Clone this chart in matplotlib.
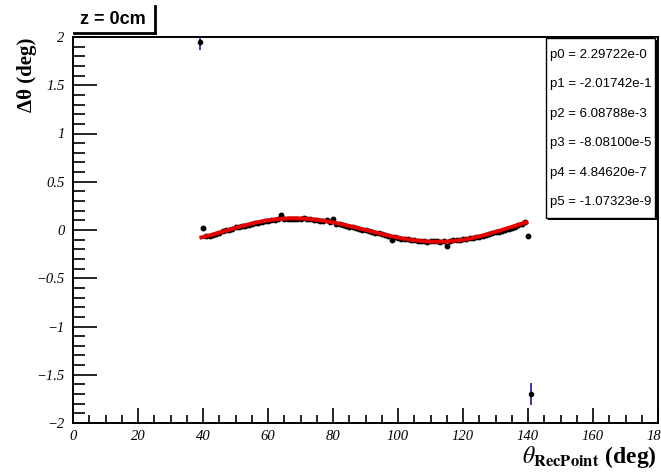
import numpy as np
import matplotlib
matplotlib.use("Agg")
import matplotlib.pyplot as plt
from matplotlib.ticker import MultipleLocator
from matplotlib.patches import Rectangle
from matplotlib.lines import Line2D

plt.rcParams['mathtext.fontset'] = 'stix'

# measured points (deg)
theta = list(range(40, 141))
dtheta = [0.025, -0.065, -0.062, -0.055, -0.042, -0.030, -0.008, -0.005, 0.005, 0.012,
          0.030, 0.030, 0.042, 0.045, 0.055, 0.062, 0.072, 0.075, 0.088, 0.090,
          0.098, 0.102, 0.105, 0.110, 0.155, 0.118, 0.110, 0.112, 0.115, 0.112,
          0.115, 0.122, 0.118, 0.110, 0.108, 0.105, 0.098, 0.095, 0.100, 0.085,
          0.110, 0.065, 0.062, 0.050, 0.045, 0.035, 0.032, 0.020, 0.015, 0.005,
          -0.005, -0.008, -0.018, -0.030, -0.035, -0.045, -0.050, -0.060, -0.105, -0.070,
          -0.082, -0.090, -0.092, -0.098, -0.100, -0.105, -0.110, -0.112, -0.115, -0.122,
          -0.118, -0.115, -0.118, -0.120, -0.115, -0.170, -0.112, -0.108, -0.105, -0.100,
          -0.098, -0.095, -0.088, -0.082, -0.075, -0.068, -0.060, -0.050, -0.045, -0.035,
          -0.025, -0.018, -0.008, 0.000, 0.012, 0.022, 0.035, 0.048, 0.060, 0.085,
          -0.060]

# outliers with visible error bars
out_x = [39, 141]
out_y = [1.95, -1.70]
out_err = [0.08, 0.11]

# pol5 fit parameters
pars = [2.29722e-0, -2.01742e-1, 6.08788e-3, -8.08100e-5, 4.84620e-7, -1.07323e-9]
par_txt = ["2.29722e-0", "-2.01742e-1", "6.08788e-3", "-8.08100e-5", "4.84620e-7", "-1.07323e-9"]
fit_range = (39.5, 139.5)

fig = plt.figure(figsize=(6.61, 4.76), dpi=100)
ax = fig.add_axes([73/661, 53/476, 585/661, 386/476])

ax.errorbar(out_x, out_y, yerr=out_err, fmt='o', color='black', ms=3,
            ecolor='#2b2b9e', elinewidth=1.3, capsize=0, zorder=3)
ax.plot(theta, dtheta, 'o', color='black', ms=3.2, zorder=3)

xf = np.linspace(fit_range[0], fit_range[1], 300)
yf = np.polyval(pars[::-1], xf)
ax.plot(xf, yf, color='#e80000', lw=2.8, zorder=4)

ax.set_xlim(0, 180)
ax.set_ylim(-2, 2)
ax.xaxis.set_major_locator(MultipleLocator(20))
ax.xaxis.set_minor_locator(MultipleLocator(5))
ax.yaxis.set_major_locator(MultipleLocator(0.5))
ax.yaxis.set_minor_locator(MultipleLocator(0.1))
ax.tick_params(which='both', direction='in', top=False, right=False, width=1.2)
ax.tick_params(which='major', axis='x', length=11, pad=5)
ax.tick_params(which='minor', axis='x', length=5.5)
ax.tick_params(which='major', axis='y', length=17, pad=6)
ax.tick_params(which='minor', axis='y', length=8.5)
for s in ax.spines.values():
    s.set_linewidth(1.4)

ax.set_xticks(np.arange(0, 181, 20))
ax.set_xticklabels([str(v) for v in range(0, 181, 20)])
ax.set_yticks(np.arange(-2, 2.01, 0.5))
ax.set_yticklabels(['\u22122', '\u22121.5', '\u22121', '\u22120.5', '0', '0.5', '1', '1.5', '2'])
for lab in ax.get_xticklabels() + ax.get_yticklabels():
    lab.set_fontfamily('Liberation Serif')
    lab.set_fontstyle('italic')
    lab.set_fontsize(10.5)

# axis titles
fig.text(657/661, 1 - 463/476, r'$\theta_{\mathbf{RecPoint}}$ (deg)', ha='right', va='baseline',
         fontsize=17, fontweight='bold', family='Liberation Serif')
fig.text(27/661, 1 - 38/476, '\u0394\u03b8 (deg)', ha='center', va='top', rotation=90,
         fontsize=15, fontweight='bold', family='Liberation Serif')

# title box
fig.add_artist(Line2D([74/661, 155/661], [1 - 33/476, 1 - 33/476], color='black', lw=2))
fig.add_artist(Line2D([155/661, 155/661], [1 - 6/476, 1 - 33/476], color='black', lw=2))
fig.text(113/661, 1 - 20/476, 'z = 0cm', ha='center', va='center', fontsize=13,
         fontweight='bold', family='Liberation Sans')

# fit parameter box
bx0, bx1 = 546/661, 655/661
by0, by1 = 1 - 218/476, 1 - 38/476
fig.add_artist(Rectangle((bx0 + 2/661, by0 - 2/476), bx1 - bx0, by1 - by0,
                         transform=fig.transFigure, facecolor='black', edgecolor='none', zorder=4))
fig.add_artist(Rectangle((bx0, by0), bx1 - bx0, by1 - by0, transform=fig.transFigure,
                         facecolor='white', edgecolor='black', lw=1, zorder=5))
for i, t in enumerate(par_txt):
    fig.text(550/661, 1 - (55 + i * 29.4)/476, 'p%d = %s' % (i, t), ha='left', va='center',
             fontsize=9.5, family='Liberation Sans', zorder=6)

fig.savefig('out.png', dpi=100, facecolor='white')
